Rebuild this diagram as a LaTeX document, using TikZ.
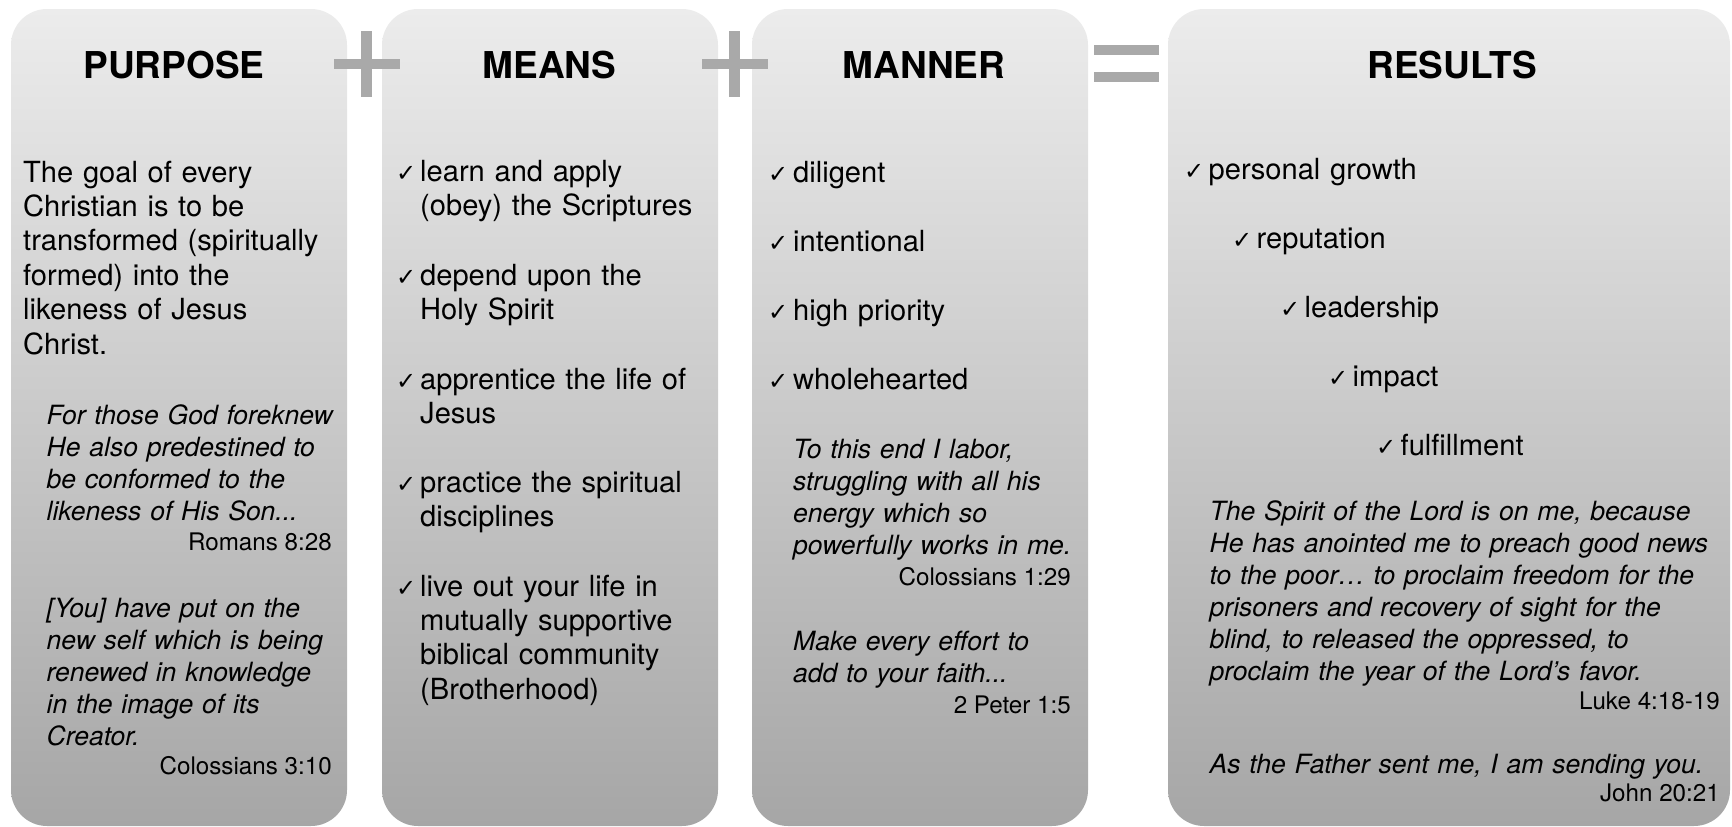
\documentclass[tikz,border=0pt]{standalone}
\usepackage{fontspec}
\setmainfont{TeX Gyre Heros}
\newfontfamily\chkfont{DejaVu Sans}
\definecolor{ptop}{RGB}{236,236,236}
\definecolor{pbot}{RGB}{166,166,166}
\definecolor{signgray}{RGB}{169,169,169}
\tikzset{
  panel/.style={rounded corners=36pt, top color=ptop, bottom color=pbot, draw=none},
  sign/.style={fill=signgray, draw=none},
  ttl/.style={font=\fontsize{37}{40}\selectfont\bfseries, anchor=base, inner sep=0pt},
  body/.style={font=\fontsize{29.1}{34.4}\selectfont, anchor=base west, inner sep=0pt, text width=380pt, align=left},
  verse/.style={font=\fontsize{26.5}{32}\selectfont\itshape, anchor=base west, inner sep=0pt, text width=560pt, align=left},
  vref/.style={font=\fontsize{24.2}{28}\selectfont, anchor=base east, inner sep=0pt},
  chk/.style={font=\chkfont\fontsize{24}{26}\selectfont, anchor=base west, inner sep=0pt},
}
\begin{document}
\begin{tikzpicture}[x=1pt,y=-1pt]
\useasboundingbox (0,0) rectangle (1732,827);
% panels
\path[panel] (11,9) rectangle (347,826);
\path[panel] (382,9) rectangle (718,826);
\path[panel] (752,9) rectangle (1088,826);
\path[panel] (1168,9) rectangle (1730,826);
% operators
\path[sign] (334,59) rectangle (400,69);
\path[sign] (361,31) rectangle (372,97);
\path[sign] (702,59) rectangle (768,69);
\path[sign] (729,31) rectangle (740,97);
\path[sign] (1094,45) rectangle (1159,55);
\path[sign] (1094,72) rectangle (1159,82);
% titles
\node[ttl] (t1) at (174,78) {PURPOSE};
\node[ttl] (t2) at (549.5,78) {MEANS};
\node[ttl] (t3) at (924,78) {MANNER};
\node[ttl] (t4) at (1452,78) {RESULTS};
% purpose
\node[body] (p1) at (23,182) {The goal of every\\Christian is to be\\transformed (spiritually\\formed) into the\\likeness of Jesus\\Christ.};
\node[verse] (pv1) at (46.5,424.5) {For those God foreknew\\He also predestined to\\be conformed to the\\likeness of His Son...};
\node[vref] (pr1) at (332,550) {Romans 8:28};
\node[verse] (pv2) at (46.5,617) {[You] have put on the\\new self which is being\\renewed in knowledge\\in the image of its\\Creator.};
\node[vref] (pr2) at (332,774) {Colossians 3:10};
% means
\node[chk] (mc1) at (396,181.5) {✓};
\node[body] (m1) at (420,181.5) {learn and apply\\(obey) the Scriptures};
\node[chk] (mc2) at (396,285) {✓};
\node[body] (m2) at (420,285) {depend upon the\\Holy Spirit};
\node[chk] (mc3) at (396,389) {✓};
\node[body] (m3) at (420,389) {apprentice the life of\\Jesus};
\node[chk] (mc4) at (396,492.5) {✓};
\node[body] (m4) at (420,492.5) {practice the spiritual\\disciplines};
\node[chk] (mc5) at (396,596) {✓};
\node[body] (m5) at (420,596) {live out your life in\\mutually supportive\\biblical community\\(Brotherhood)};
% manner
\node[chk] (nc1) at (768,182) {✓};
\node[body] (n1) at (793,182) {diligent};
\node[chk] (nc2) at (768,251) {✓};
\node[body] (n2) at (793,251) {intentional};
\node[chk] (nc3) at (768,320) {✓};
\node[body] (n3) at (793,320) {high priority};
\node[chk] (nc4) at (768,389) {✓};
\node[body] (n4) at (793,389) {wholehearted};
\node[verse] (nv1) at (793,458.5) {To this end I labor,\\struggling with all his\\energy which so\\powerfully works in me.};
\node[vref] (nr1) at (1071,585) {Colossians 1:29};
\node[verse] (nv2) at (793,650.5) {Make every effort to\\add to your faith...};
\node[vref] (nr2) at (1071,713) {2 Peter 1:5};
% results
\node[chk] (rc1) at (1184,179) {✓};
\node[body] (r1) at (1208.5,179) {personal growth};
\node[chk] (rc2) at (1232,248) {✓};
\node[body] (r2) at (1256.5,248) {reputation};
\node[chk] (rc3) at (1280,317) {✓};
\node[body] (r3) at (1304.5,317) {leadership};
\node[chk] (rc4) at (1328,386) {✓};
\node[body] (r4) at (1352.5,386) {impact};
\node[chk] (rc5) at (1376,455) {✓};
\node[body] (r5) at (1400.5,455) {fulfillment};
\node[verse] (rv1) at (1209.5,520) {The Spirit of the Lord is on me, because\\He has anointed me to preach good news\\to the poor… to proclaim freedom for the\\prisoners and recovery of sight for the\\blind, to released the oppressed, to\\proclaim the year of the Lord’s favor.};
\node[vref] (rr1) at (1720,709.5) {Luke 4:18-19};
\node[verse] (rv2) at (1209.5,773) {As the Father sent me, I am sending you.};
\node[vref] (rr2) at (1720,801) {John 20:21};
\end{tikzpicture}
\end{document}
